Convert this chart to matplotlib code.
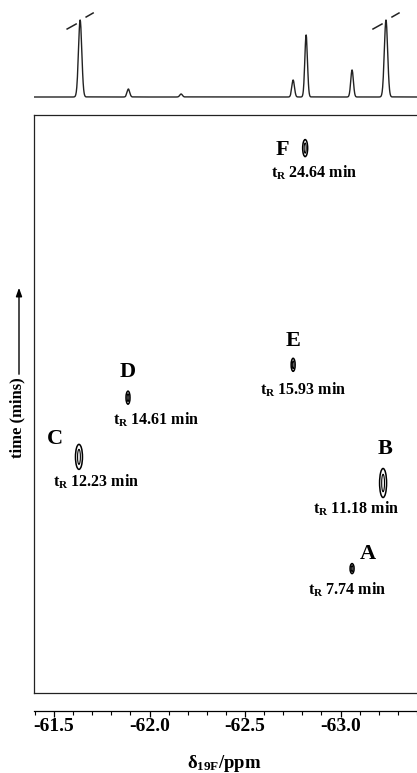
import numpy as np
import matplotlib
matplotlib.use("Agg")
import matplotlib.pyplot as plt
from matplotlib.patches import Ellipse

plt.rcParams['font.family'] = ['Liberation Serif', 'DejaVu Serif']
plt.rcParams['font.weight'] = 'bold'
plt.rcParams['axes.unicode_minus'] = False
plt.rcParams['mathtext.fontset'] = 'custom'
plt.rcParams['mathtext.rm'] = 'Liberation Serif:bold'
plt.rcParams['mathtext.it'] = 'Liberation Serif:bold'
plt.rcParams['mathtext.bf'] = 'Liberation Serif:bold'

# ---- data ----
spot_names = ["A", "B", "C", "D", "E", "F"]
spot_shift = [-63.036, -63.196, -61.627, -61.880, -62.732, -62.794]   # ppm
spot_tr = [7.74, 11.18, 12.23, 14.61, 15.93, 24.64]                  # min

# 1D 19F trace on top: peak positions (ppm) and heights (px above baseline)
peak_shift = [-61.633, -61.882, -62.154, -62.732, -62.799, -63.036, -63.211]
peak_height = [77, 8, 3, 17, 62, 27, 77]
clipped = [True, False, False, False, False, False, True]

xticks = [-61.5, -62.0, -62.5, -63.0]

# ---- layout (pixels) ----
W, H = 417, 773
XLIM = (-61.395, -63.371)
YLIM = (2.74, 25.97)


def rect(l, t, r, b):
    return [l / W, 1 - b / H, (r - l) / W, (b - t) / H]


fig = plt.figure(figsize=(W / 100, H / 100), dpi=100)

# top spectrum
ax_s = fig.add_axes(rect(34, 5, 417, 100))
x = np.linspace(XLIM[1], XLIM[0], 3000)
trace = np.zeros_like(x)
for p, h, c in zip(peak_shift, peak_height, clipped):
    s = 0.0085 if c else 0.0068
    trace += h * np.exp(-0.5 * ((x - p) / s) ** 2)
ax_s.plot(x, trace, color='#222222', lw=1.0)
px = (XLIM[0] - XLIM[1]) / (417 - 34)  # ppm per pixel
for p, c in zip(peak_shift, clipped):
    if c:
        ax_s.plot([p + 13 * px, p + 4 * px], [68, 73], color='#222222', lw=1.1)
        ax_s.plot([p - 6 * px, p - 13 * px], [80, 84], color='#222222', lw=1.1)
ax_s.set_xlim(XLIM)
ax_s.set_ylim(-3, 92)
ax_s.axis('off')

# main 2D map
ax = fig.add_axes(rect(34, 115, 417, 693))
ax.set_xlim(XLIM)
ax.set_ylim(YLIM)
ax.set_xticks([])
ax.set_yticks([])
ax.spines['right'].set_visible(False)
for sp in ['left', 'top', 'bottom']:
    ax.spines[sp].set_linewidth(0.9)
    ax.spines[sp].set_color('#222222')

mpp = (YLIM[1] - YLIM[0]) / (693 - 115)  # min per pixel
spot_size = {"A": (4, 10), "B": (7, 29), "C": (7, 25), "D": (4, 13), "E": (4, 13), "F": (5, 17)}
letter_off = {"A": (16, -15), "B": (2, -34), "C": (-24, -18), "D": (0, -26), "E": (0, -24), "F": (-23, 2)}
label_off = {"A": (-5, 21), "B": (-27, 26), "C": (17, 25), "D": (28, 22), "E": (10, 25), "F": (9, 25)}

for name, ppm, tr in zip(spot_names, spot_shift, spot_tr):
    w, h = spot_size[name]
    for f, g, lw in [(1.0, 1.0, 1.1), (0.4, 0.6, 0.8)]:
        ax.add_patch(Ellipse((ppm, tr), w * f * px, h * g * mpp, fill=False,
                             ec='black', lw=lw))
    dx, dy = letter_off[name]
    ax.annotate(name, xy=(ppm, tr), xytext=(dx * 0.72, -dy * 0.72),
                textcoords='offset points', ha='center', va='center',
                fontsize=16, fontweight='bold')
    dx, dy = label_off[name]
    ax.annotate(r'$t_R$' + ' %.2f min' % tr, xy=(ppm, tr), xytext=(dx * 0.72, -dy * 0.72),
                textcoords='offset points', ha='center', va='center',
                fontsize=11.5, fontweight='bold')

# separate ppm axis below the map
ax_x = fig.add_axes(rect(34, 700, 417, 711))
ax_x.set_xlim(XLIM)
ax_x.set_yticks([])
for sp in ['left', 'right', 'top']:
    ax_x.spines[sp].set_visible(False)
ax_x.spines['bottom'].set_linewidth(0.9)
ax_x.set_xticks(xticks)
ax_x.set_xticklabels(['%.1f' % v for v in xticks])
ax_x.set_xticks(np.arange(-61.4, -63.45, -0.1), minor=True)
ax_x.tick_params(axis='x', which='major', direction='out', length=4, width=0.9,
                 labelsize=14, pad=1)
ax_x.tick_params(axis='x', which='minor', direction='out', length=3, width=0.8)
ax_x.patch.set_visible(False)
fig.text(224 / W, 1 - 764 / H, r'$δ_{19F}$/ppm', ha='center', va='center',
         fontsize=13.5, fontweight='bold')

# time axis label and arrow
fig.text(17 / W, 1 - 418 / H, 'time (mins)', rotation=90, ha='center', va='center',
         fontsize=12, fontweight='bold')
ax.annotate('', xy=(19 / W, 1 - 285 / H), xytext=(19 / W, 1 - 377 / H),
            xycoords='figure fraction', textcoords='figure fraction',
            arrowprops=dict(arrowstyle='-|>,head_width=0.18,head_length=0.5',
                            lw=1.0, color='black'))

fig.savefig('out.png', dpi=100)
